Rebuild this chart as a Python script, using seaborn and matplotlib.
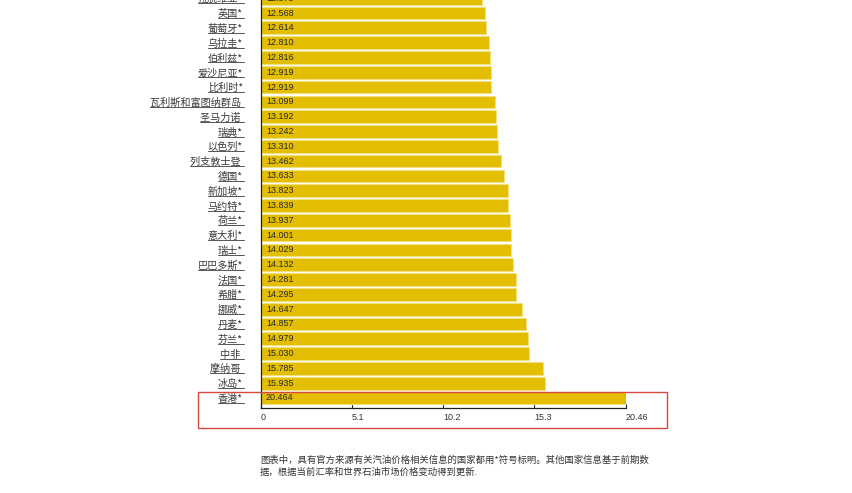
import matplotlib
matplotlib.use("Agg")
import matplotlib.pyplot as plt
import seaborn as sns
import pandas as pd
from matplotlib.lines import Line2D
from matplotlib.patches import Rectangle

# ---------- data ----------
countries = [
    "拉脱维亚*", "英国*", "葡萄牙*", "乌拉圭*", "伯利兹*", "爱沙尼亚*", "比利时*",
    "瓦利斯和富图纳群岛 ", "圣马力诺 ", "瑞典*", "以色列*", "列支敦士登 ", "德国*",
    "新加坡*", "马约特*", "荷兰*", "意大利*", "瑞士*", "巴巴多斯*", "法国*", "希腊*",
    "挪威*", "丹麦*", "芬兰*", "中非 ", "摩纳哥 ", "冰岛*", "香港*",
]
prices = [
    12.375, 12.568, 12.614, 12.810, 12.816, 12.919, 12.919,
    13.099, 13.192, 13.242, 13.310, 13.462, 13.633,
    13.823, 13.839, 13.937, 14.001, 14.029, 14.132, 14.281, 14.295,
    14.647, 14.857, 14.979, 15.030, 15.785, 15.935, 20.464,
]
x_ticks = [0, 5.1, 10.2, 15.3, 20.46]
x_tick_labels = ["0", "5.1", "10.2", "15.3", "20.46"]
footnote = ("图表中，具有官方来源有关汽油价格相关信息的国家都用*符号标明。其他国家信息基于前期数\n"
            "据，根据当前汇率和世界石油市场价格变动得到更新.")

BAR = "#e3be02"
CJK = ["Noto Sans CJK SC", "DejaVu Sans"]
NUM = ["Liberation Sans", "DejaVu Sans"]

df = pd.DataFrame({"country": countries, "price": prices})

sns.set_theme(style="white")
plt.rcParams["font.family"] = CJK

fig = plt.figure(figsize=(8.52, 4.93), dpi=100)
# axes reaches above the figure so the first bar is cut, like the reference
ax = fig.add_axes([0.3063, 0.1732, 0.4284, 0.8454])

sns.barplot(data=df, x="price", y="country", orient="h", color=BAR,
            saturation=1, width=0.86, edgecolor="#f4e07a", linewidth=0.8, ax=ax)

ax.set_xlim(0, 20.46)
ax.set_ylim(len(countries) - 0.35, -0.5)
ax.set_xlabel("")
ax.set_ylabel("")

for s in ["top", "right"]:
    ax.spines[s].set_visible(False)
for s in ["left", "bottom"]:
    ax.spines[s].set_color("#222222")
    ax.spines[s].set_linewidth(0.9)

ax.set_xticks(x_ticks)
ax.set_xticklabels(x_tick_labels, fontsize=6.5, family=NUM, color="#333333", ha="left")
ax.tick_params(axis="x", direction="in", length=3, width=0.8, color="#222222",
               pad=4, bottom=True)
ax.tick_params(axis="y", length=0, pad=13)
for lab in ax.get_yticklabels():
    lab.set_fontsize(7.3)
    lab.set_color("#3a3a3a")
    lab.set_family(CJK)

# value labels inside bars
for i, v in enumerate(prices):
    ax.text(0.28, i, f"{v:.3f}", va="center", ha="left", fontsize=6.5,
            family=NUM, color="#2a2a2a")

# footnote
fig.text(260 / 852, 1 - 455 / 493, footnote, fontsize=6.75, color="#333333",
         va="top", ha="left", linespacing=1.5, family=CJK)

# red highlight box around the last row
fig.add_artist(Rectangle((198 / 852, 1 - 428 / 493), 469 / 852, 36 / 493,
                         transform=fig.transFigure, fill=False,
                         edgecolor="#d8473c", linewidth=1.0))

# underline the country labels
fig.canvas.draw()
r = fig.canvas.get_renderer()
for lab in ax.get_yticklabels():
    bb = lab.get_window_extent(renderer=r)
    y = bb.y0 + 1
    fig.add_artist(Line2D([bb.x0 / 852, (bb.x1 + 1) / 852], [y / 493, y / 493],
                          transform=fig.transFigure, color="#555555", linewidth=0.7))

fig.savefig("out.png", dpi=100)
